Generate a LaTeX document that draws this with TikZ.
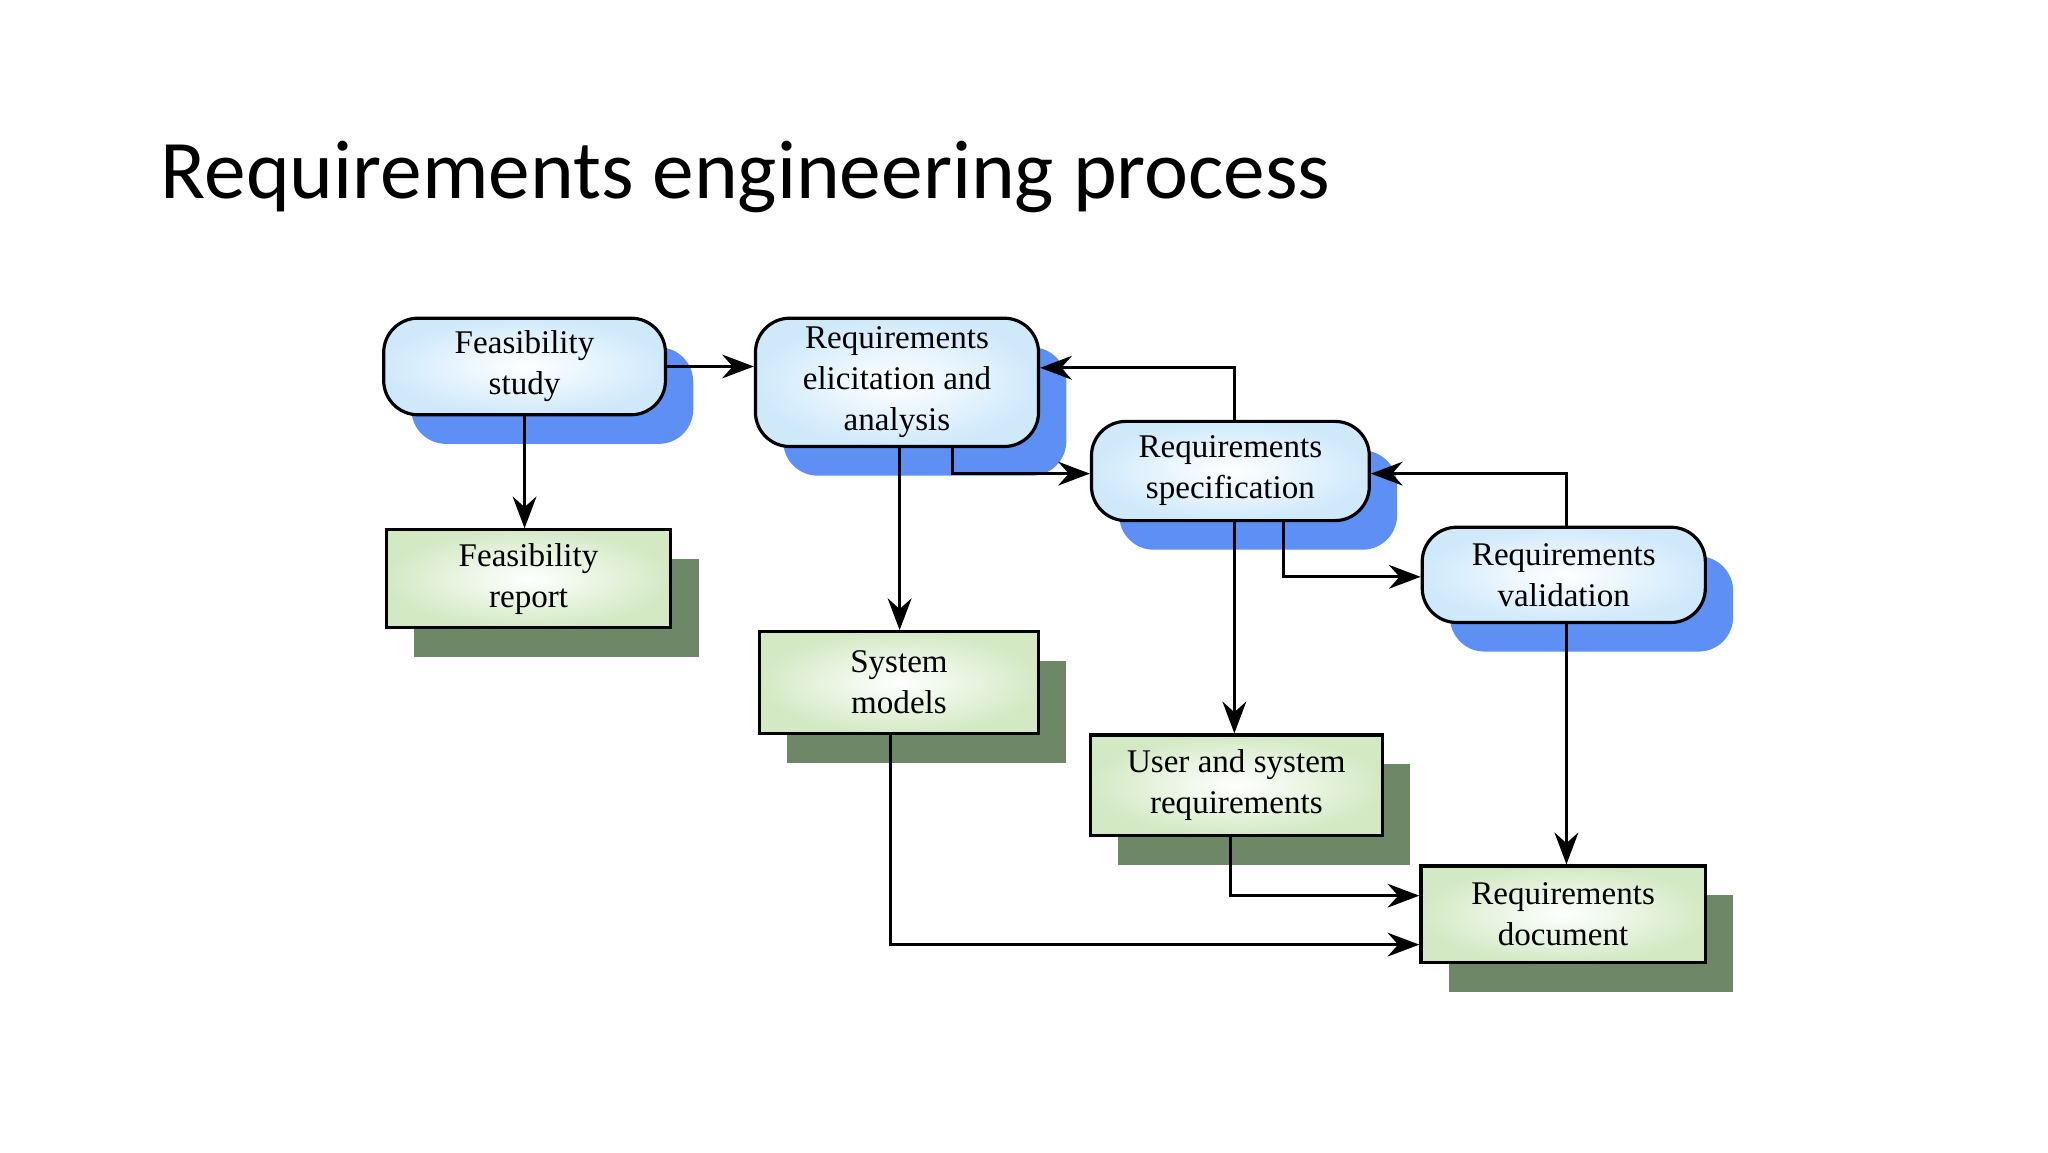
\documentclass[tikz,border=0pt]{standalone}
\usepackage{fontspec}
\setmainfont{Liberation Serif}
\newfontfamily\titlefont{Carlito}
\usetikzlibrary{shadows,arrows.meta}
\definecolor{shblue}{HTML}{5E8FF5}
\definecolor{shgreen}{HTML}{6E8766}
\definecolor{inblue}{HTML}{CFE9FB}
\definecolor{ingreen}{HTML}{D3E9C4}
\begin{document}
\begin{tikzpicture}[x=1pt,y=-1pt,
  proc/.style={draw,line width=2.4pt,rounded corners=26pt,inner sep=0pt,
    inner color=white,outer color=inblue,align=center,
    font=\fontsize{25}{31}\selectfont,
    drop shadow={shadow xshift=21pt,shadow yshift=-22pt,fill=shblue,opacity=1}},
  doc/.style={draw,line width=2.4pt,inner sep=0pt,
    inner color=white,outer color=ingreen,align=center,
    font=\fontsize{25}{31}\selectfont,
    drop shadow={shadow xshift=21pt,shadow yshift=-22pt,fill=shgreen,opacity=1}},
  arr/.style={line width=2.2pt,-{Stealth[length=24pt,width=18pt,inset=8pt]}}]
\useasboundingbox[fill=white] (0,0) rectangle (1548,871);
\node[anchor=base west,font=\titlefont\fontsize{63}{65}\selectfont] (title) at (118,150) {Requirements engineering process};
\node[proc,minimum width=213pt,minimum height=73pt] (fs) at (396.5,277) {Feasibility\\study};
\node[proc,minimum width=214pt,minimum height=97pt] (ea) at (678,289) {Requirements\\elicitation and\\analysis};
\node[proc,minimum width=210pt,minimum height=75pt] (rs) at (930,356) {Requirements\\specification};
\node[proc,minimum width=214pt,minimum height=72pt] (rv) at (1182,434.5) {Requirements\\validation};
\node[doc,minimum width=215pt,minimum height=74pt] (fr) at (399.5,437.5) {Feasibility\\report};
\node[doc,minimum width=211pt,minimum height=77pt] (sm) at (679.5,516) {System\\models};
\node[doc,minimum width=221pt,minimum height=76pt] (us) at (934.5,593.5) {User and system\\requirements};
\node[doc,minimum width=215pt,minimum height=73pt] (rd) at (1181.5,691) {Requirements\\document};
\coordinate (c1) at (933,278);
\coordinate (c2) at (720,358);
\coordinate (c3) at (970,436);
\coordinate (c4) at (1184,358);
\coordinate (c5) at (930,677);
\coordinate (c6) at (673,714);
\draw[arr] (fs.east) -- (ea.west |- fs.east);
\draw[arr] (fs.south) -- (fr.north -| fs.south);
\draw[arr] (rs.north -| c1) -- (c1) -- (c1 -| ea.east);
\draw[arr] (ea.south -| c2) -- (c2) -- (c2 -| rs.west);
\draw[arr] (ea.south -| 680,0) -- (sm.north -| 680,0);
\draw[arr] (rs.south -| 933,0) -- (us.north -| 933,0);
\draw[arr] (rs.south -| c3) -- (c3) -- (c3 -| rv.west);
\draw[arr] (rv.north -| c4) -- (c4) -- (c4 -| rs.east);
\draw[arr] (rv.south -| 1184,0) -- (rd.north -| 1184,0);
\draw[arr] (us.south -| c5) -- (c5) -- (c5 -| rd.west);
\draw[arr] (sm.south -| c6) -- (c6) -- (c6 -| rd.west);
\end{tikzpicture}
\end{document}
